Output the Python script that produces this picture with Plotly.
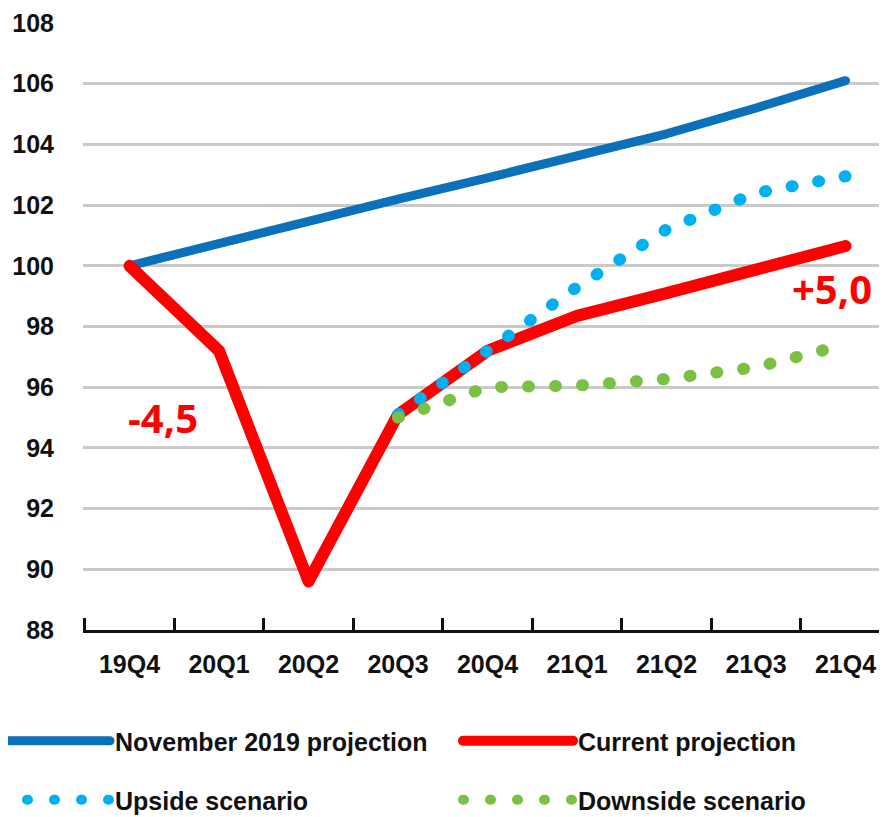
import plotly.graph_objects as go

quarters = ["19Q4", "20Q1", "20Q2", "20Q3", "20Q4", "21Q1", "21Q2", "21Q3", "21Q4"]
nov2019 = [100.0, 100.75, 101.45, 102.2, 102.9, 103.65, 104.35, 105.2, 106.1]
current = [100.0, 97.2, 89.6, 95.1, 97.2, 98.35, 99.1, 99.9, 100.65]
upside_q = ["20Q3", "20Q4", "21Q1", "21Q2", "21Q3", "21Q4"]
upside = [95.1, 97.2, 99.3, 101.2, 102.4, 102.95]
downside_q = ["20Q3", "20Q4", "21Q1", "21Q2", "21Q3", "21Q4"]
downside = [95.0, 96.0, 96.05, 96.27, 96.66, 97.4]
y_ticks = [88, 90, 92, 94, 96, 98, 100, 102, 104, 106, 108]

FONT = "Liberation Sans Narrow, Liberation Sans, Arial, sans-serif"
TXT = "#111111"

# the page body has an 8px margin; the figure is sized to fit the window
OFF = 8
FIG_W, FIG_H = 887 - OFF, 817 - OFF
PLOT_L = 75
PLOT_W = FIG_W - PLOT_L
BAND = 89.5  # px per quarter
X0 = -0.52

fig = go.Figure()
fig.add_trace(go.Scatter(x=quarters, y=nov2019, mode="lines", name="November 2019 projection",
                         line=dict(color="#0A71BA", width=9), legend="legend"))
fig.add_trace(go.Scatter(x=quarters, y=current, mode="lines", name="Current projection",
                         line=dict(color="#FF0000", width=12), legend="legend2"))
fig.add_trace(go.Scatter(x=upside_q, y=upside, mode="lines", name="Upside scenario",
                         line=dict(color="#00B0F0", width=12, dash="1px,26px"), legend="legend3"))
fig.add_trace(go.Scatter(x=downside_q, y=downside, mode="lines", name="Downside scenario",
                         line=dict(color="#7AC143", width=12, dash="1px,26px"), legend="legend4"))

fig.add_annotation(x=0.37, y=95.0, text="-4,5", showarrow=False,
                   font=dict(family="Open Sans", size=40, color="#FF0000", weight="bold"))
fig.add_annotation(x=7.85, y=99.25, text="+5,0", showarrow=False,
                   font=dict(family="Open Sans", size=40, color="#FF0000", weight="bold"))


def leg(left_px, center_y):
    return dict(orientation="h", xref="paper", yref="container",
                x=(left_px - OFF - PLOT_L) / PLOT_W, xanchor="left",
                y=1 - (center_y - OFF) / FIG_H, yanchor="middle", itemwidth=110,
                font=dict(family=FONT, size=25, color=TXT, weight="bold"),
                bgcolor="rgba(0,0,0,0)", itemclick=False, itemdoubleclick=False)


fig.update_layout(
    width=FIG_W, height=FIG_H,
    margin=dict(l=PLOT_L, r=0, t=15, b=FIG_H - (630 - OFF), autoexpand=False),
    plot_bgcolor="white", paper_bgcolor="white",
    showlegend=True,
    legend=leg(-5, 741),
    legend2=leg(458, 741),
    legend3=leg(-5, 800),
    legend4=leg(458, 800),
    xaxis=dict(
        type="category", categoryorder="array", categoryarray=quarters,
        range=[X0, X0 + PLOT_W / BAND], tickson="boundaries", ticks="inside", ticklen=12, tickwidth=3,
        tickcolor=TXT, showline=True, linecolor=TXT, linewidth=3,
        showgrid=False, ticklabelstandoff=10, automargin=False,
        tickfont=dict(family=FONT, size=25, color=TXT, weight="bold"),
    ),
    yaxis=dict(
        range=[88, 108], tickmode="array", tickvals=y_ticks, showgrid=True,
        gridcolor="#CACACA", gridwidth=3, zeroline=False, showline=False,
        ticks="", ticklabelstandoff=28, automargin=False,
        tickfont=dict(family=FONT, size=25, color=TXT, weight="bold"),
    ),
)

post = """
var gd = document.getElementById('{plot_id}');
function roundCaps(){
  gd.querySelectorAll('path.js-line').forEach(function(p){ p.style.strokeLinecap = 'round'; p.style.strokeLinejoin = 'round'; });
}
roundCaps();
gd.on('plotly_afterplot', roundCaps);
"""
fig.write_html("out.html", post_script=post)
